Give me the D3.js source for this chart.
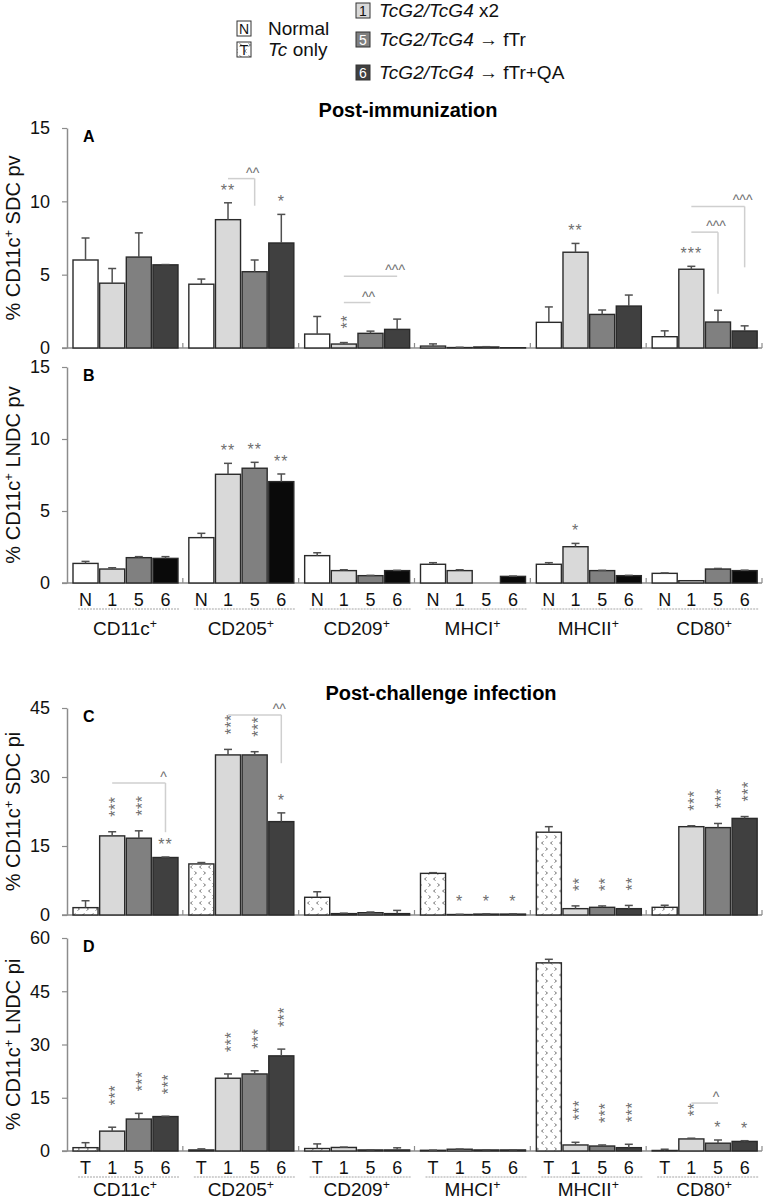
<!DOCTYPE html>
<html>
<head>
<meta charset="utf-8">
<script src="https://cdn.jsdelivr.net/npm/d3@7"></script>
<style>
body { margin: 0; background: #fff; }
svg { display: block; font-family: "Liberation Sans", Arial, sans-serif; }
</style>
</head>
<body>
<script>
// categories
const groups = ["CD11c", "CD205", "CD209", "MHCI", "MHCII", "CD80"];
const immSeries = ["N", "1", "5", "6"];
const infSeries = ["T", "1", "5", "6"];

// A: % CD11c+ SDC pv (rows = N, 1, 5, 6)
const aMeans = [
  [6.0, 4.35, 0.95, 0.13, 1.75, 0.77],
  [4.42, 8.75, 0.27, 0.03, 6.53, 5.37],
  [6.2, 5.2, 1.0, 0.07, 2.29, 1.77],
  [5.67, 7.16, 1.27, 0.02, 2.86, 1.16]
];
const aErrs = [
  [1.5, 0.35, 1.2, 0.15, 1.05, 0.4],
  [1.0, 1.15, 0.1, 0.02, 0.6, 0.2],
  [1.65, 0.8, 0.15, 0.02, 0.3, 0.8],
  [0.02, 1.95, 0.7, 0, 0.75, 0.35]
];
const aStars = [
  {g: "CD205", s: 1, t: "**"}, {g: "CD205", s: 3, t: "*"},
  {g: "CD209", s: 1, t: "**", v: true},
  {g: "MHCII", s: 1, t: "**"}, {g: "CD80", s: 1, t: "***"}
];
const aBrackets = [
  {g: "CD205", a: 1, b: 2, y: 11.55, drop: 9.7, t: "^^"},
  {g: "CD209", a: 1, b: 2, y: 3.1, t: "^^"},
  {g: "CD209", a: 1, b: 3, y: 4.9, t: "^^^"},
  {g: "CD80", a: 1, b: 2, y: 7.9, drop: 3.7, t: "^^^"},
  {g: "CD80", a: 1, b: 3, y: 9.65, drop: 5.5, t: "^^^"}
];

// B: % CD11c+ LNDC pv
const bMeans = [
  [1.36, 3.15, 1.9, 1.3, 1.3, 0.67],
  [0.97, 7.55, 0.86, 0.86, 2.52, 0.16],
  [1.76, 7.97, 0.51, 0, 0.86, 0.97],
  [1.71, 7.04, 0.86, 0.46, 0.51, 0.86]
];
const bErrs = [
  [0.14, 0.3, 0.2, 0.11, 0.11, 0.03],
  [0.09, 0.76, 0.06, 0.06, 0.23, 0],
  [0.07, 0.41, 0.02, 0, 0.02, 0.04],
  [0.12, 0.53, 0.02, 0.02, 0.02, 0.03]
];
const bStars = [
  {g: "CD205", s: 1, t: "**"}, {g: "CD205", s: 2, t: "**"}, {g: "CD205", s: 3, t: "**"},
  {g: "MHCII", s: 1, t: "*"}
];

// C: % CD11c+ SDC pi (rows = T, 1, 5, 6)
const cMeans = [
  [1.6, 11.1, 3.85, 9.05, 18.0, 1.67],
  [17.2, 34.8, 0.3, 0.1, 1.38, 19.2],
  [16.7, 34.8, 0.5, 0.2, 1.67, 19.0],
  [12.5, 20.3, 0.3, 0.2, 1.38, 21.0]
];
const cErrs = [
  [1.5, 0.3, 1.2, 0.15, 1.2, 0.45],
  [0.9, 1.2, 0.1, 0.05, 0.6, 0.2],
  [1.6, 0.7, 0.15, 0.05, 0.3, 0.9],
  [0.1, 1.9, 0.7, 0.05, 0.7, 0.4]
];
const cStars = [
  {g: "CD11c", s: 1, t: "***", v: true}, {g: "CD11c", s: 2, t: "***", v: true}, {g: "CD11c", s: 3, t: "**"},
  {g: "CD205", s: 1, t: "***", v: true}, {g: "CD205", s: 2, t: "***", v: true}, {g: "CD205", s: 3, t: "*"},
  {g: "MHCI", s: 1, t: "*"}, {g: "MHCI", s: 2, t: "*"}, {g: "MHCI", s: 3, t: "*"},
  {g: "MHCII", s: 1, t: "**", v: true}, {g: "MHCII", s: 2, t: "**", v: true}, {g: "MHCII", s: 3, t: "**", v: true},
  {g: "CD80", s: 1, t: "***", v: true}, {g: "CD80", s: 2, t: "***", v: true}, {g: "CD80", s: 3, t: "***", v: true}
];
const cBrackets = [
  {g: "CD11c", a: 1, b: 3, y: 28.7, drop: 18.0, t: "^"},
  {g: "CD205", a: 1, b: 3, y: 43.5, drop: 33.0, t: "^^"}
];

// D: % CD11c+ LNDC pi
const dMeans = [
  [0.94, 0.3, 0.7, 0.2, 53.0, 0.15],
  [5.6, 20.5, 1.0, 0.5, 1.7, 3.4],
  [9.0, 21.7, 0.3, 0.3, 1.4, 2.2],
  [9.7, 26.8, 0.3, 0.3, 0.94, 2.7]
];
const dErrs = [
  [1.4, 0.3, 1.3, 0.05, 1.0, 0.35],
  [1.1, 1.2, 0.1, 0.05, 0.75, 0.2],
  [1.6, 0.9, 0.05, 0.05, 0.3, 0.9],
  [0.1, 1.9, 0.6, 0.05, 0.95, 0.2]
];
const dStars = [
  {g: "CD11c", s: 1, t: "***", v: true}, {g: "CD11c", s: 2, t: "***", v: true}, {g: "CD11c", s: 3, t: "***", v: true},
  {g: "CD205", s: 1, t: "***", v: true}, {g: "CD205", s: 2, t: "***", v: true}, {g: "CD205", s: 3, t: "***", v: true},
  {g: "MHCII", s: 1, t: "***", v: true}, {g: "MHCII", s: 2, t: "***", v: true}, {g: "MHCII", s: 3, t: "***", v: true},
  {g: "CD80", s: 1, t: "**", v: true}, {g: "CD80", s: 2, t: "*"}, {g: "CD80", s: 3, t: "*"}
];
const dBrackets = [
  {g: "CD80", a: 1, b: 2, y: 13.5, t: "^"}
];

const W = 765, H = 1204;
const svg = d3.select("body").append("svg")
  .attr("width", W).attr("height", H);

// dotted "< >" pattern for the Tc only bars
const pat = svg.append("defs").append("pattern")
  .attr("id", "tc").attr("patternUnits", "userSpaceOnUse")
  .attr("width", 9).attr("height", 12);
pat.append("rect").attr("width", 9).attr("height", 12).attr("fill", "#fff");
pat.append("path")
  .attr("d", "M3.5,1.5 L1.5,3 L3.5,4.5 M5.5,7.5 L7.5,9 L5.5,10.5")
  .attr("fill", "none").attr("stroke", "#555").attr("stroke-width", 0.8);

const narrow = "'Liberation Sans Narrow', 'Liberation Sans', Arial, sans-serif";
const x0 = d3.scaleBand().domain(groups).range([67, 762]);
const x1 = d3.scaleBand().domain(d3.range(4)).range([6, 111]).paddingInner(0.06);
const cx = (g, s) => x0(g) + x1(s) + x1.bandwidth() / 2;

function supText(sel, base, rest) {
  sel.append("tspan").text(base);
  sel.append("tspan").attr("font-size", "0.65em").attr("baseline-shift", "super").text("+");
  if (rest) sel.append("tspan").text(rest);
}

function drawPanel(p) {
  const y = d3.scaleLinear().domain([0, p.max]).range([p.bottom, p.top]);
  const g = svg.append("g");

  // y axis
  g.append("g")
    .attr("transform", "translate(67,0)")
    .call(d3.axisLeft(y).tickValues(p.ticks).tickSize(5).tickSizeOuter(0).tickPadding(12))
    .call(a => {
      a.select(".domain").attr("stroke", "#8c8c8c").attr("stroke-width", 1.5);
      a.selectAll(".tick line").attr("stroke", "#8c8c8c").attr("stroke-width", 1.2);
      a.selectAll(".tick text").attr("font-size", 18).attr("fill", "#111")
        .attr("font-family", "'Liberation Sans', Arial, sans-serif");
    });

  // y title
  const yt = g.append("text")
    .attr("transform", `translate(20,${(p.top + p.bottom) / 2}) rotate(-90)`)
    .attr("text-anchor", "middle").attr("font-size", 20).attr("fill", "#111");
  supText(yt, "% CD11c", " " + p.ylabel);

  // panel letter
  g.append("text").attr("x", 83).attr("y", p.top + 14)
    .attr("font-size", 16).attr("font-weight", "bold").text(p.letter);

  // baseline + group ticks
  g.append("line").attr("x1", 62).attr("x2", 762)
    .attr("y1", p.bottom).attr("y2", p.bottom)
    .attr("stroke", "#8c8c8c").attr("stroke-width", 1.5);
  g.selectAll(".gtick").data(groups).join("line")
    .attr("x1", d => x0(d) + x0.bandwidth()).attr("x2", d => x0(d) + x0.bandwidth())
    .attr("y1", p.bottom).attr("y2", p.bottom - 5)
    .attr("stroke", "#8c8c8c").attr("stroke-width", 1.2);

  // bars and error bars
  p.means.forEach((vals, s) => {
    const rows = groups.map((k, i) => ({g: k, m: vals[i], e: p.errs[s][i]}));
    g.selectAll(null).data(rows.filter(d => d.m > 0)).join("rect")
      .attr("x", d => x0(d.g) + x1(s))
      .attr("y", d => y(d.m))
      .attr("width", x1.bandwidth())
      .attr("height", d => p.bottom - y(d.m))
      .attr("fill", p.fills[s])
      .attr("stroke", "#2a2a2a").attr("stroke-width", 1.4);
    const eb = rows.filter(d => d.e > 0);
    g.selectAll(null).data(eb).join("line")
      .attr("x1", d => cx(d.g, s)).attr("x2", d => cx(d.g, s))
      .attr("y1", d => y(d.m)).attr("y2", d => y(d.m + d.e))
      .attr("stroke", "#505050").attr("stroke-width", 1.5);
    g.selectAll(null).data(eb).join("line")
      .attr("x1", d => cx(d.g, s) - 4).attr("x2", d => cx(d.g, s) + 4)
      .attr("y1", d => y(d.m + d.e)).attr("y2", d => y(d.m + d.e))
      .attr("stroke", "#505050").attr("stroke-width", 1.5);
  });

  // significance stars (stacked ones are drawn as rotated text)
  p.stars.forEach(st => {
    const gi = groups.indexOf(st.g);
    const top = y(p.means[st.s][gi] + p.errs[st.s][gi]);
    const x = cx(st.g, st.s);
    if (st.v) {
      g.append("text")
        .attr("transform", `translate(${x + 9},${top - p.vGap + 3}) rotate(-90)`)
        .attr("font-size", 16).attr("letter-spacing", 0.5).attr("fill", "#6e6e6e").text(st.t);
    } else {
      g.append("text").attr("x", x).attr("y", top - 7)
        .attr("text-anchor", "middle").attr("font-size", 16).attr("letter-spacing", 1)
        .attr("fill", "#6e6e6e").text(st.t);
    }
  });

  // comparison brackets
  (p.brackets || []).forEach(br => {
    const xa = cx(br.g, br.a), xb = cx(br.g, br.b), yl = y(br.y);
    g.append("line").attr("x1", xa).attr("x2", xb).attr("y1", yl).attr("y2", yl)
      .attr("stroke", "#cfcfcf").attr("stroke-width", 1.5);
    if (br.drop !== undefined) {
      g.append("line").attr("x1", xb).attr("x2", xb).attr("y1", yl).attr("y2", y(br.drop))
        .attr("stroke", "#cfcfcf").attr("stroke-width", 1.5);
    }
    g.append("text").attr("x", xb - 2).attr("y", yl - 1)
      .attr("text-anchor", "middle").attr("font-size", 14).attr("fill", "#6e6e6e").text(br.t);
  });

  // category labels
  if (p.labels) {
    groups.forEach(k => {
      p.labels.forEach((lab, s) => {
        g.append("text").attr("x", cx(k, s)).attr("y", p.bottom + 23)
          .attr("text-anchor", "middle").attr("font-size", 18)
          .attr("font-family", narrow).attr("fill", "#111").text(lab);
      });
      g.append("line").attr("x1", x0(k) + 11).attr("x2", x0(k) + 112)
        .attr("y1", p.bottom + 26).attr("y2", p.bottom + 26)
        .attr("stroke", "#c4c4c4").attr("stroke-width", 1.5).attr("stroke-dasharray", "2,1");
      const gl = g.append("text").attr("x", x0(k) + 58).attr("y", p.bottom + p.groupDy)
        .attr("text-anchor", "middle").attr("font-size", 19)
        .attr("font-family", narrow).attr("fill", "#111");
      supText(gl, k);
    });
  }
}

const greys = ["#ffffff", "#d9d9d9", "#808080", "#404040"];

drawPanel({top: 128, bottom: 348, max: 15, ticks: [0, 5, 10, 15], means: aMeans, errs: aErrs,
  stars: aStars, brackets: aBrackets, letter: "A", ylabel: "SDC pv", fills: greys, vGap: 17});
drawPanel({top: 367, bottom: 583, max: 15, ticks: [0, 5, 10, 15], means: bMeans, errs: bErrs,
  stars: bStars, letter: "B", ylabel: "LNDC pv", labels: immSeries, vGap: 17, groupDy: 52,
  fills: ["#ffffff", "#d9d9d9", "#808080", "#0a0a0a"]});
drawPanel({top: 708, bottom: 915, max: 45, ticks: [0, 15, 30, 45], means: cMeans, errs: cErrs,
  stars: cStars, brackets: cBrackets, letter: "C", ylabel: "SDC pi", vGap: 18,
  fills: ["url(#tc)", greys[1], greys[2], greys[3]]});
drawPanel({top: 938, bottom: 1151, max: 60, ticks: [0, 15, 30, 45, 60], means: dMeans, errs: dErrs,
  stars: dStars, brackets: dBrackets, letter: "D", ylabel: "LNDC pi", labels: infSeries, vGap: 25,
  groupDy: 45, fills: ["url(#tc)", greys[1], greys[2], greys[3]]});

// section titles
svg.append("text").attr("x", 408).attr("y", 117).attr("text-anchor", "middle")
  .attr("font-size", 20).attr("font-weight", "bold").text("Post-immunization");
svg.append("text").attr("x", 441).attr("y", 700).attr("text-anchor", "middle")
  .attr("font-size", 20).attr("font-weight", "bold").text("Post-challenge infection");

// legend
const legLeft = [
  {key: "N", fill: "#fff", ink: "#111", y: 21, parts: [["Normal", false]]},
  {key: "T", fill: "url(#tc)", ink: "#111", y: 42, parts: [["Tc", true], [" only", false]]}
];
const legRight = [
  {key: "1", fill: "#d9d9d9", ink: "#111", y: 3, parts: [["TcG2/TcG4", true], [" x2", false]]},
  {key: "5", fill: "#808080", ink: "#fff", y: 32, parts: [["TcG2/TcG4", true], [" \u2192 fTr", false]]},
  {key: "6", fill: "#404040", ink: "#fff", y: 65, parts: [["TcG2/TcG4", true], [" \u2192 fTr+QA", false]]}
];
function drawLegend(items, bx, tx) {
  items.forEach(it => {
    svg.append("rect").attr("x", bx).attr("y", it.y).attr("width", 14).attr("height", 15)
      .attr("fill", it.fill).attr("stroke", "#333").attr("stroke-width", 1);
    svg.append("text").attr("x", bx + 7).attr("y", it.y + 12.5).attr("text-anchor", "middle")
      .attr("font-size", 14).attr("fill", it.ink).text(it.key);
    const t = svg.append("text").attr("x", tx).attr("y", it.y + 14).attr("font-size", 19).attr("fill", "#111");
    it.parts.forEach(([s, ital]) => t.append("tspan").attr("font-style", ital ? "italic" : "normal").text(s));
  });
}
drawLegend(legLeft, 237, 268);
drawLegend(legRight, 356, 379);
</script>
</body>
</html>
